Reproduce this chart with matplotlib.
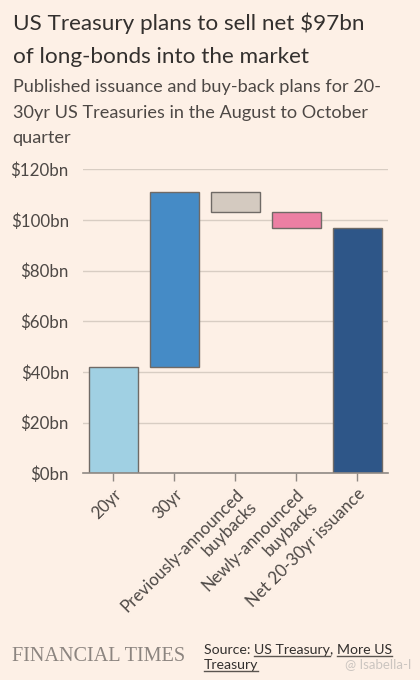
import matplotlib.pyplot as plt

categories = ["20yr", "30yr", "Previously-announced\nbuybacks",
              "Newly-announced\nbuybacks", "Net 20-30yr issuance"]
bottoms = [0, 42, 103, 97, 0]
heights = [42, 69, 8, 6, 97]
colors = ["#a0d0e3", "#458bc6", "#d4cac0", "#ec7fa3", "#2e5688"]
yticks = [0, 20, 40, 60, 80, 100, 120]

bg = "#fdf0e6"
txt = "#33302e"
plt.rcParams['font.family'] = ['Lato', 'DejaVu Sans']

fig = plt.figure(figsize=(4.2, 6.8), dpi=100, facecolor=bg)
ax = fig.add_axes([0.197, 0.304, 0.726, 0.447], facecolor=bg)

x = range(len(categories))
ax.bar(x, heights, bottom=bottoms, width=0.8, color=colors,
       edgecolor="#6f6a66", linewidth=1.0, zorder=3)

ax.set_xlim(-0.5, 4.5)
ax.set_ylim(0, 120)
ax.set_yticks(yticks)
ax.set_yticklabels([f"${v}bn" for v in yticks])
ax.grid(axis='y', color="#d8cdc3", linewidth=1.0, zorder=0)
ax.set_axisbelow(True)
for s in ["top", "right", "left"]:
    ax.spines[s].set_visible(False)
ax.spines["bottom"].set_color("#8f8984")
ax.spines["bottom"].set_linewidth(1.2)
ax.spines["bottom"].set_zorder(4)
ax.tick_params(axis='y', length=0, pad=10, labelsize=12.2, labelcolor="#4d4845")
ax.tick_params(axis='x', length=6, width=1, color="#8f8984", pad=3,
               labelsize=12.2, labelcolor="#4d4845")
ax.set_xticks(list(x))
ax.set_xticklabels(categories, rotation=45, ha='right', rotation_mode='anchor')

fig.text(0.03, 0.956, "US Treasury plans to sell net $97bn", fontsize=16.2,
         color=txt, va='baseline')
fig.text(0.03, 0.908, "of long-bonds into the market", fontsize=16.2,
         color=txt, va='baseline')
sub = ["Published issuance and buy-back plans for 20-",
       "30yr US Treasuries in the August to October",
       "quarter"]
for i, line in enumerate(sub):
    fig.text(0.03, 0.864 - i * 0.0375, line, fontsize=13.1, color="#4d4845",
             va='baseline')

fig.text(0.028, 0.028, "FINANCIAL TIMES", fontsize=14.6, color="#8c8580",
         family=['Liberation Serif', 'DejaVu Serif'], va='baseline')

fig.canvas.draw()
r = fig.canvas.get_renderer()
sx = 0.486
y1 = 0.038
y2 = 0.016
fs = 10.2
t1 = fig.text(sx, y1, "Source: ", fontsize=fs, color=txt, va='baseline')
bb = t1.get_window_extent(r).transformed(fig.transFigure.inverted())
links = []
t2 = fig.text(bb.x1, y1, "US Treasury", fontsize=fs, color=txt, va='baseline')
links.append((t2, y1))
bb = t2.get_window_extent(r).transformed(fig.transFigure.inverted())
t3 = fig.text(bb.x1, y1, ", ", fontsize=fs, color=txt, va='baseline')
bb = t3.get_window_extent(r).transformed(fig.transFigure.inverted())
t4 = fig.text(bb.x1, y1, "More US", fontsize=fs, color=txt, va='baseline')
links.append((t4, y1))
t5 = fig.text(sx, y2, "Treasury", fontsize=fs, color=txt, va='baseline')
links.append((t5, y2))
for t, yy in links:
    b = t.get_window_extent(r).transformed(fig.transFigure.inverted())
    fig.add_artist(plt.Line2D([b.x0, b.x1], [yy - 0.003, yy - 0.003],
                              color="#5a5550", linewidth=1.0,
                              transform=fig.transFigure))

fig.text(0.98, 0.018, "@ Isabella-l", fontsize=9.5, color="#cbc5c0",
         ha='right', va='baseline')

fig.savefig("out.png", dpi=100, facecolor=bg)
